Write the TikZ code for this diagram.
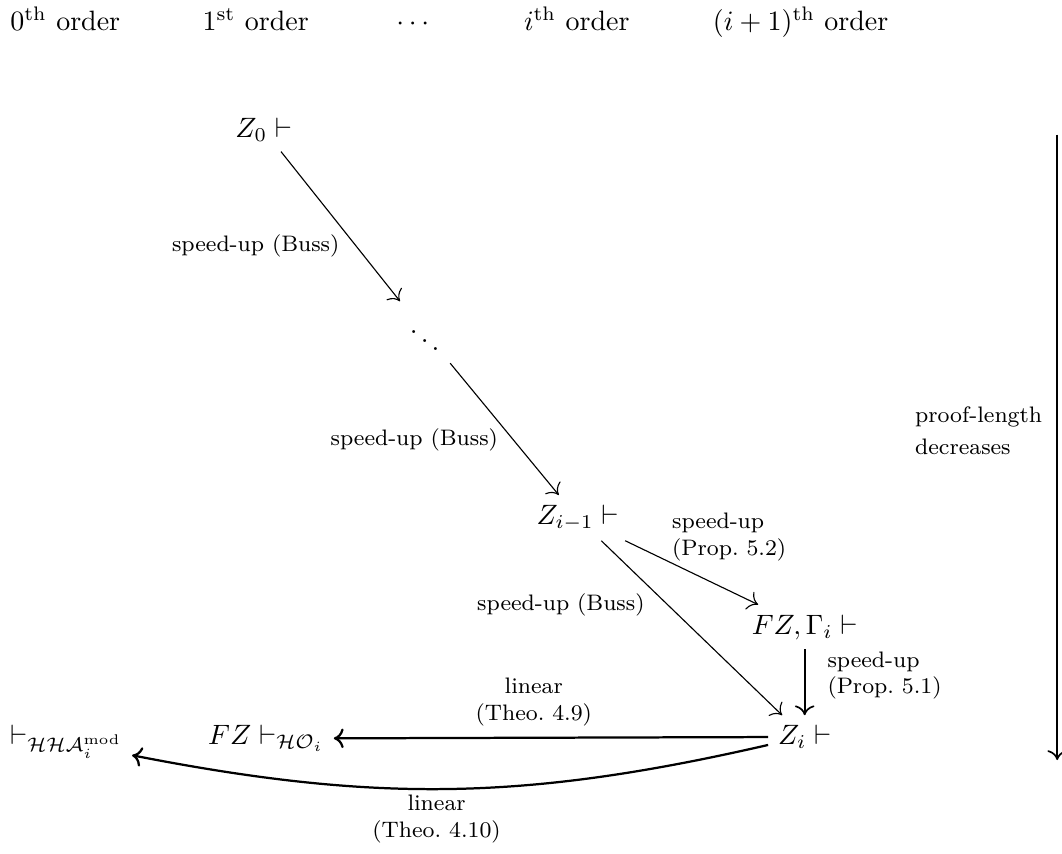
\documentclass[tikz,border=0pt]{standalone}
\usepackage{amsmath}
\usetikzlibrary{
  arrows.meta,
  positioning
}

\tikzset{
  lbl/.style={font=\footnotesize, inner sep=0pt}
}

\begin{document}
\begin{tikzpicture}
\useasboundingbox (0,0) rectangle (13.33,-10.71);
% -------------------------
% Orders (header row)
% -------------------------
\begin{scope}[
  every node/.style={anchor=base}
]
\node (ord0) at (0.82, -0.38)  {$0^{\text{th}}$ order};
\node (ord1) at (3.21, -0.38)  {$1^{\text{st}}$ order};
\node (ordd) at (5.21, -0.38)  {$\cdots$};
\node (ordi) at (7.24, -0.38)  {$i^{\text{th}}$ order};
\node (ordn) at (10.05, -0.38) {$(i+1)^{\text{th}}$ order};
\end{scope}

% -------------------------
% Nodes
% -------------------------
\node (Z0)   at (3.31, -1.63)  {$Z_0 \vdash$};
\node (dots) at (5.33, -4.17)  {$\ddots$};
\node (Zim1) at (7.25, -6.50)  {$Z_{i-1} \vdash$};
\node (FZG)  at (10.10, -7.87) {$FZ, \Gamma_i \vdash$};
\node (Zi)   at (10.10, -9.25) {$Z_i \vdash$};
\node (FZHO) at (3.34, -9.27)  {$FZ \vdash_{\mathcal{HO}_i}$};
\node (HHA)  at (0.83, -9.31)  {$\vdash_{\mathcal{HHA}_i^{\text{mod}}}$};

% -------------------------
% Labels
% -------------------------
\node[lbl] (buss1) at (3.21, -3.09) {speed-up (Buss)};
\node[lbl] (buss2) at (5.20, -5.52) {speed-up (Buss)};
\node[lbl] (buss3) at (7.04, -7.59) {speed-up (Buss)};
\node[lbl, anchor=west, align=left] (prop2) at (8.43, -6.74) {speed-up\\(Prop.~5.2)};
\node[lbl, anchor=west, align=left] (prop1) at (10.38, -8.48) {speed-up\\(Prop.~5.1)};
\node[lbl, align=center] (theo9)  at (6.70, -8.81)  {linear\\(Theo.~4.9)};
\node[lbl, align=center] (theo10) at (5.48, -10.28) {linear\\(Theo.~4.10)};
\node[lbl, anchor=west, align=left] (plen) at (11.48, -5.41) {proof-length\\[2pt]decreases};

% -------------------------
% Edges
% -------------------------
\begin{scope} [>={To[length=3.5pt, width=7pt]}]
% speed-up chain
\path [->] (Z0)   edge (dots);
\path [->] (dots) edge (Zim1);
\path [->] (Zim1) edge (FZG);
\path [->] (Zim1) edge (Zi);
\path [->, semithick] (FZG) edge (Zi);

% linear simulations
\path [->, thick] (Zi) edge (FZHO);
\path [->, thick] (Zi) edge[bend left=12] (HHA);

% proof-length axis
\coordinate (plTop) at (13.27, -1.69);
\coordinate (plBot) at (13.27, -9.54);
\path [->, semithick] (plTop) edge (plBot);
\end{scope}

\end{tikzpicture}
\end{document}
